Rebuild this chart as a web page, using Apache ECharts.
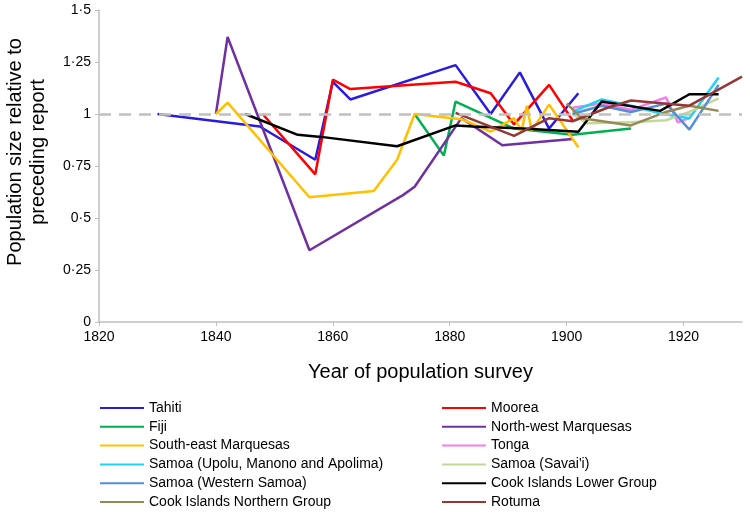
<!DOCTYPE html>
<html><head><meta charset="utf-8">
<script src="https://cdn.jsdelivr.net/npm/echarts@6/dist/echarts.min.js"></script>
<style>html,body{margin:0;padding:0;background:#fff}#c{width:750px;height:515px}</style>
</head><body><div id="c"></div>
<script>
const xTicks = [1820, 1840, 1860, 1880, 1900, 1920];
const yTicks = [0, 0.25, 0.5, 0.75, 1, 1.25, 1.5];
const referenceLevel = 1;

const tahiti = [[1830,1.0],[1847.5,0.94],[1857,0.78],[1860,1.155],[1863,1.07],[1881,1.235],[1887,1.0],[1892,1.2],[1897,0.93],[1902,1.1]];
const moorea = [[1848,1.0],[1857,0.71],[1860,1.165],[1863,1.12],[1881,1.155],[1887,1.1],[1891,0.95],[1897,1.14],[1901,0.97]];
const fiji = [[1874,1.0],[1879,0.8],[1881,1.06],[1891,0.93],[1901,0.9],[1911,0.93]];
const nwMarquesas = [[1840,1.0],[1842,1.37],[1856,0.345],[1872,0.61],[1874,0.65],[1882,0.98],[1889,0.85],[1901,0.88]];
const seMarquesas = [[1840,1.0],[1842,1.055],[1856,0.6],[1867,0.63],[1871,0.78],[1874,1.0],[1882,0.975],[1887,0.915],[1891,0.98],[1892.3,0.92],[1893.2,1.04],[1894,0.92],[1897,1.045],[1902,0.84]];
const tonga = [[1901,1.03],[1906,1.05],[1911,1.02],[1917,1.08],[1919,0.96],[1921,0.98]];
const samoaUpolu = [[1901,1.01],[1906,1.07],[1911,1.04],[1916.5,1.0],[1921,0.98],[1926,1.175]];
const samoaSavaii = [[1901,1.0],[1903.5,0.955],[1911,0.96],[1917,0.97],[1921,1.01],[1926,1.075]];
const samoaWestern = [[1901,1.0],[1906,1.04],[1911,1.01],[1917,1.05],[1921,0.925],[1926,1.14]];
const cookLower = [[1845,1.0],[1854,0.9],[1858,0.89],[1871,0.845],[1881,0.945],[1884,0.94],[1892.6,0.93],[1902,0.915],[1906,1.06],[1916,1.015],[1921,1.095],[1926,1.095]];
const cookNorthern = [[1900,1.05],[1902.6,0.98],[1911,0.945],[1917,1.01],[1921,1.04],[1926,1.015]];
const rotuma = [[1881,1.005],[1891,0.895],[1897,0.98],[1901,0.965],[1907,1.03],[1911,1.065],[1921,1.04],[1930,1.18]];

const seriesDefs = [
  ['Tahiti', tahiti, '#2A1BE0'],
  ['Moorea', moorea, '#FF0000'],
  ['Fiji', fiji, '#00B050'],
  ['North-west Marquesas', nwMarquesas, '#7030A0'],
  ['South-east Marquesas', seMarquesas, '#FFC000'],
  ['Tonga', tonga, '#F27DF0'],
  ['Samoa (Upolu, Manono and Apolima)', samoaUpolu, '#1ED3F7'],
  ["Samoa (Savai'i)", samoaSavaii, '#C4D79B'],
  ['Samoa (Western Samoa)', samoaWestern, '#558ED5'],
  ['Cook Islands Lower Group', cookLower, '#000000'],
  ['Cook Islands Northern Group', cookNorthern, '#948A54'],
  ['Rotuma', rotuma, '#953735']
];

const font = 'Liberation Sans, Arial, sans-serif';
const series = [{
  type: 'line', name: '_ref', data: [], silent: true,
  markLine: {silent: true, symbol: 'none', label: {show: false},
    lineStyle: {color: '#C0C0C0', type: [12, 8], width: 2.5},
    data: [{yAxis: referenceLevel}]}
}];
seriesDefs.forEach(([n, d, c]) => series.push({
  type: 'line', name: n, data: d, symbol: 'none', smooth: false,
  lineStyle: {color: c, width: 2.5}, itemStyle: {color: c}
}));

const leftNames = seriesDefs.filter((_, i) => i % 2 === 0).map(s => s[0]);
const rightNames = seriesDefs.filter((_, i) => i % 2 === 1).map(s => s[0]);
const legendCommon = {orient: 'vertical', top: 396, height: 200, itemWidth: 44, itemHeight: 14, itemGap: 4.8,
  textStyle: {fontFamily: font, fontSize: 14, color: '#000'}, icon: 'path://M0,6 L44,6 L44,8 L0,8 Z'};

const chart = echarts.init(document.getElementById('c'));
chart.setOption({
  animation: false,
  grid: {left: 99, right: 8, top: 10, bottom: 193},
  legend: [
    Object.assign({left: 95, data: leftNames}, legendCommon),
    Object.assign({left: 437, data: rightNames}, legendCommon)
  ],
  xAxis: {type: 'value', min: xTicks[0], max: 1930, interval: 20,
    axisLine: {lineStyle: {color: '#BFBFBF', width: 1.5}},
    axisTick: {show: true, length: 4, lineStyle: {color: '#BFBFBF'}},
    splitLine: {show: false},
    axisLabel: {showMaxLabel: false, color: '#000', fontSize: 14, fontFamily: font, margin: 8,
      formatter: v => String(v)},
    name: 'Year of population survey', nameLocation: 'middle', nameGap: 40,
    nameTextStyle: {fontSize: 20, fontFamily: font, color: '#000'}
  },
  yAxis: {type: 'value', min: yTicks[0], max: yTicks[yTicks.length - 1], interval: 0.25,
    axisLine: {show: true, lineStyle: {color: '#BFBFBF', width: 1.5}},
    axisTick: {show: true, length: 4, lineStyle: {color: '#BFBFBF'}},
    splitLine: {show: false},
    axisLabel: {color: '#000', fontSize: 14, fontFamily: font, margin: 8,
      formatter: v => String(v).replace('.', '\u00B7')}
  },
  graphic: [{type: 'text', rotation: Math.PI / 2, x: 27, y: 152,
    style: {text: 'Population size relative to\npreceding report', font: '20px ' + font,
      fill: '#000', align: 'center', verticalAlign: 'middle', lineHeight: 23}}],
  series: series
});
</script></body></html>
